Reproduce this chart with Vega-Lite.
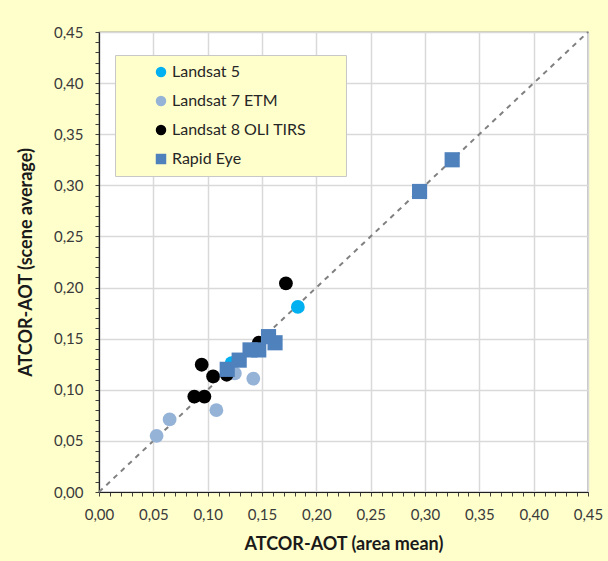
{
  "$schema": "https://vega.github.io/schema/vega-lite/v6.json",
  "width": 489,
  "height": 460,
  "autosize": {"type": "none"},
  "padding": {"left": 99, "top": 32, "right": 20, "bottom": 69},
  "background": "#FFFFCC",
  "config": {
    "font": "Lato",
    "view": {"fill": "white", "stroke": "#404040", "strokeWidth": 1.2},
    "axis": {
      "labelFontSize": 15,
      "labelColor": "#3A3A3A",
      "titleFontSize": 18,
      "titleFontWeight": "bold",
      "titleColor": "#1A1A1A",
      "gridColor": "#D9D9D9",
      "gridWidth": 1.5,
      "tickColor": "#404040",
      "tickSize": 4,
      "domainColor": "#202020",
      "domainWidth": 1.2
    }
  },
  "data": {
    "values": [
      {"series": "Landsat 5", "x": 0.122, "y": 0.126},
      {"series": "Landsat 5", "x": 0.183, "y": 0.181},
      {"series": "Landsat 7 ETM", "x": 0.053, "y": 0.055},
      {"series": "Landsat 7 ETM", "x": 0.065, "y": 0.071},
      {"series": "Landsat 7 ETM", "x": 0.108, "y": 0.080},
      {"series": "Landsat 7 ETM", "x": 0.125, "y": 0.116},
      {"series": "Landsat 7 ETM", "x": 0.142, "y": 0.111},
      {"series": "Landsat 8 OLI TIRS", "x": 0.172, "y": 0.204},
      {"series": "Landsat 8 OLI TIRS", "x": 0.0945, "y": 0.1245},
      {"series": "Landsat 8 OLI TIRS", "x": 0.105, "y": 0.113},
      {"series": "Landsat 8 OLI TIRS", "x": 0.0877, "y": 0.0934},
      {"series": "Landsat 8 OLI TIRS", "x": 0.097, "y": 0.0934},
      {"series": "Landsat 8 OLI TIRS", "x": 0.1175, "y": 0.1147},
      {"series": "Landsat 8 OLI TIRS", "x": 0.147, "y": 0.146},
      {"series": "Rapid Eye", "x": 0.118, "y": 0.120},
      {"series": "Rapid Eye", "x": 0.129, "y": 0.129},
      {"series": "Rapid Eye", "x": 0.139, "y": 0.139},
      {"series": "Rapid Eye", "x": 0.147, "y": 0.139},
      {"series": "Rapid Eye", "x": 0.156, "y": 0.152},
      {"series": "Rapid Eye", "x": 0.162, "y": 0.146},
      {"series": "Rapid Eye", "x": 0.295, "y": 0.294},
      {"series": "Rapid Eye", "x": 0.325, "y": 0.325}
    ]
  },
  "encoding": {
    "x": {
      "field": "x",
      "type": "quantitative",
      "scale": {"domain": [0, 0.45], "nice": false, "zero": false},
      "axis": {
        "title": "ATCOR-AOT (area mean)",
        "values": [0,0.01,0.02,0.03,0.04,0.05,0.06,0.07,0.08,0.09,0.1,0.11,0.12,0.13,0.14,0.15,0.16,0.17,0.18,0.19,0.2,0.21,0.22,0.23,0.24,0.25,0.26,0.27,0.28,0.29,0.3,0.31,0.32,0.33,0.34,0.35,0.36,0.37,0.38,0.39,0.4,0.41,0.42,0.43,0.44,0.45],
        "labelExpr": "abs(datum.value*20-round(datum.value*20))<0.001 ? replace(format(datum.value,'.2f'),'.',',') : ''",
        "gridOpacity": {"condition": {"test": "abs(datum.value*20-round(datum.value*20))<0.001", "value": 1}, "value": 0},
        "labelPadding": 11,
        "titlePadding": 13,
        "labelFlush": false,
        "labelOverlap": false
      }
    },
    "y": {
      "field": "y",
      "type": "quantitative",
      "scale": {"domain": [0, 0.45], "nice": false, "zero": false},
      "axis": {
        "title": "ATCOR-AOT (scene average)",
        "values": [0,0.01,0.02,0.03,0.04,0.05,0.06,0.07,0.08,0.09,0.1,0.11,0.12,0.13,0.14,0.15,0.16,0.17,0.18,0.19,0.2,0.21,0.22,0.23,0.24,0.25,0.26,0.27,0.28,0.29,0.3,0.31,0.32,0.33,0.34,0.35,0.36,0.37,0.38,0.39,0.4,0.41,0.42,0.43,0.44,0.45],
        "labelExpr": "abs(datum.value*20-round(datum.value*20))<0.001 ? replace(format(datum.value,'.2f'),'.',',') : ''",
        "gridOpacity": {"condition": {"test": "abs(datum.value*20-round(datum.value*20))<0.001", "value": 1}, "value": 0},
        "labelPadding": 12,
        "titlePadding": 18,
        "labelFlush": false,
        "labelOverlap": false
      }
    }
  },
  "layer": [
    {
      "data": {"values": [{"x": 0, "y": 0}, {"x": 0.45, "y": 0.45}]},
      "mark": {"type": "line", "color": "#808080", "strokeWidth": 2, "strokeDash": [5, 5]}
    },
    {
      "transform": [{"filter": "datum.series != 'Rapid Eye'"}],
      "mark": {"type": "point", "filled": true, "opacity": 1, "size": 190},
      "encoding": {
        "color": {
          "field": "series",
          "type": "nominal",
          "scale": {"domain": ["Landsat 5", "Landsat 7 ETM", "Landsat 8 OLI TIRS", "Rapid Eye"], "range": ["#00B0F0", "#95B3D7", "#000000", "#4F81BD"]},
          "legend": {
            "title": "Rapid Eye",
            "titleOrient": "right",
            "titleOpacity": 0,
            "titleFontSize": 6,
            "titlePadding": 4,
            "orient": "none",
            "legendX": 16,
            "legendY": 23,
            "fillColor": "#FFFFCC",
            "strokeColor": "#C8C8C8",
            "padding": 9,
            "symbolOffset": 29,
            "symbolSize": 110,
            "rowPadding": 13,
            "labelFontSize": 16,
            "labelColor": "#262626",
            "labelOffset": 3,
            "labelLimit": 400
          }
        },
        "shape": {
          "field": "series",
          "type": "nominal",
          "scale": {"domain": ["Landsat 5", "Landsat 7 ETM", "Landsat 8 OLI TIRS", "Rapid Eye"], "range": ["circle", "circle", "circle", "square"]}
        }
      }
    },
    {
      "transform": [{"filter": "datum.series == 'Rapid Eye'"}],
      "mark": {"type": "point", "filled": true, "opacity": 1, "size": 230},
      "encoding": {
        "color": {"field": "series", "type": "nominal"},
        "shape": {"field": "series", "type": "nominal"}
      }
    }
  ]
}
